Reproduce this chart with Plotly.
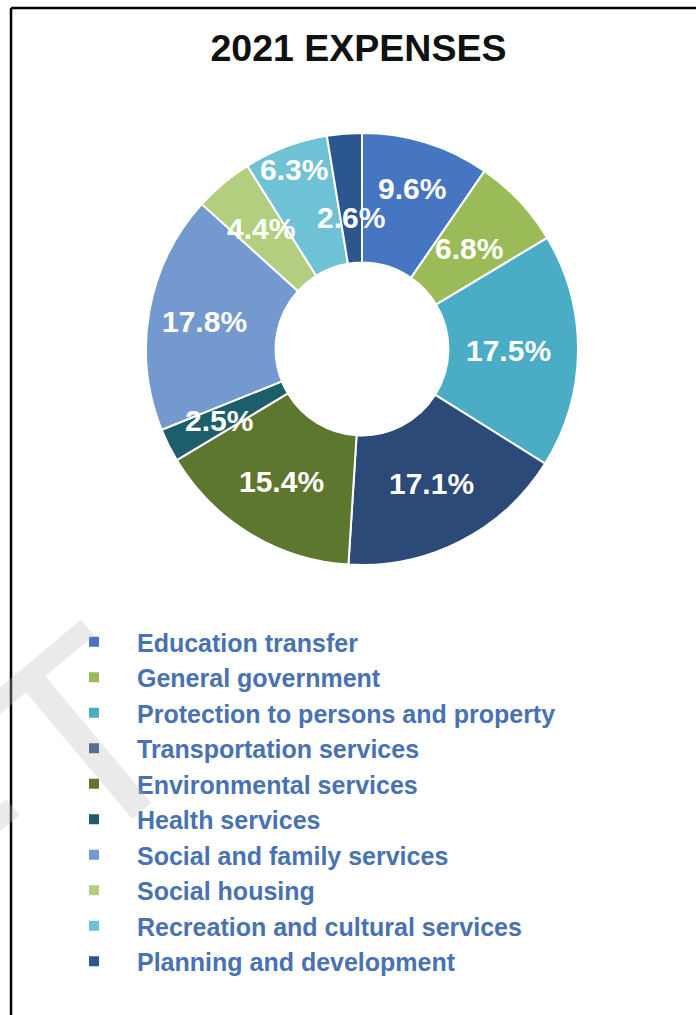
import math
import plotly.graph_objects as go

# 2021 expense breakdown (percent of total)
categories = [
    "Education transfer",
    "General government",
    "Protection to persons and property",
    "Transportation services",
    "Environmental services",
    "Health services",
    "Social and family services",
    "Social housing",
    "Recreation and cultural services",
    "Planning and development",
]
shares = [9.6, 6.8, 17.5, 17.1, 15.4, 2.5, 17.8, 4.4, 6.3, 2.6]
slice_colors = [
    "#4676C1", "#9BBB59", "#4BACC6", "#2B4A77", "#5E772F",
    "#1D5E6B", "#7399CF", "#B3CE7E", "#6FC2D6", "#2B5690",
]
# radial position of each percentage label, as a fraction of the outer radius
# (the two neighbouring narrow slices at the top are pushed apart)
label_radius = [0.78, 0.68, 0.68, 0.70, 0.72, 0.74, 0.74, 0.73, 0.89, 0.61]

W, H = 696, 1015
CX, CY, R = 362, 349, 216  # donut centre and outer radius, px
HOLE = 0.40

fig = go.Figure(
    go.Pie(
        labels=categories,
        values=shares,
        sort=False,
        direction="clockwise",
        rotation=0,
        hole=HOLE,
        marker=dict(colors=slice_colors, line=dict(color="white", width=2)),
        textinfo="none",
        domain=dict(x=[(CX - R) / W, (CX + R) / W],
                    y=[1 - (CY + R) / H, 1 - (CY - R) / H]),
        showlegend=True,
    )
)

# percentage labels at the middle angle of each slice
total = sum(shares)
annotations = []
cum = 0.0
for val, rf in zip(shares, label_radius):
    mid = (cum + val / 2) / total * 2 * math.pi
    cum += val
    px = CX + rf * R * math.sin(mid)
    py = CY - rf * R * math.cos(mid)
    annotations.append(dict(
        text=f"<b>{val:.1f}%</b>", xref="paper", yref="paper",
        x=px / W, y=1 - py / H, xanchor="center", yanchor="middle",
        showarrow=False,
        font=dict(family="Liberation Sans", size=30, color="white"),
    ))

# faint watermark running off the lower-left corner
annotations.append(dict(
    text="DRAFT", xref="paper", yref="paper",
    x=-200 / W, y=1 - 975 / H, xanchor="center", yanchor="middle",
    showarrow=False, textangle=-40,
    font=dict(family="Liberation Sans", size=270, color="rgba(190,190,190,0.32)"),
))

fig.update_layout(
    width=W,
    height=H,
    margin=dict(l=0, r=0, t=0, b=0),
    paper_bgcolor="white",
    plot_bgcolor="white",
    title=dict(
        text="<b>2021 EXPENSES</b>",
        x=0.515, xanchor="center",
        y=1 - 48 / H, yanchor="middle",
        font=dict(family="Liberation Sans", size=37.5, color="#111111"),
    ),
    legend=dict(
        x=51 / W, xanchor="left",
        y=1 - 619 / H, yanchor="top",
        font=dict(family="Liberation Sans", size=25, color="#4872B2", weight="bold"),
        itemwidth=76,
        bgcolor="rgba(0,0,0,0)",
        borderwidth=0,
    ),
    shapes=[
        dict(type="line", xref="paper", yref="paper",
             x0=11 / W, x1=1.0, y0=1 - 8 / H, y1=1 - 8 / H,
             line=dict(color="black", width=2.5), layer="above"),
        dict(type="line", xref="paper", yref="paper",
             x0=11 / W, x1=11 / W, y0=0, y1=1 - 8 / H,
             line=dict(color="black", width=2.5), layer="above"),
    ],
    annotations=annotations,
)

fig.write_html("out.html")
